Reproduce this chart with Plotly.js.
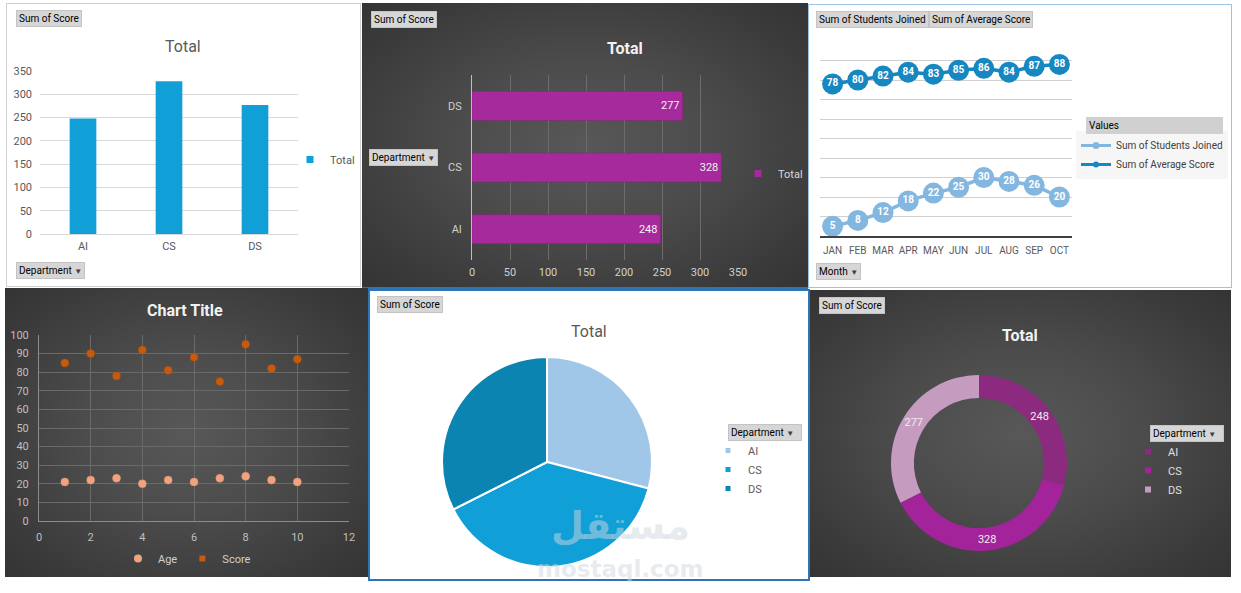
<!DOCTYPE html>
<html><head><meta charset="utf-8">
<script src="https://cdn.plot.ly/plotly-3.0.1.min.js"></script>
<style>
html,body{margin:0;padding:0;background:#fff;overflow:hidden}
#wrap{position:relative;width:1241px;height:593px}
.panel{position:absolute;box-sizing:border-box}
.dark{background:radial-gradient(ellipse at center,#585858 0%,#4c4c4c 40%,#3b3b3b 80%,#343434 100%)}
#chart{position:absolute;left:0;top:0;width:1241px;height:593px}
</style></head><body>
<div id="wrap">
<div class="panel" style="left:6px;top:3px;width:355px;height:284px;border:1px solid #d0d0d0;background:#fff"></div>
<div class="panel dark" style="left:362px;top:3px;width:446px;height:286px;border-bottom:2px solid #2e75b6"></div>
<div class="panel" style="left:808px;top:4px;width:424px;height:284px;border:1px solid #9dc3e6;background:#fff"></div>
<div class="panel dark" style="left:5px;top:288px;width:363px;height:289px"></div>
<div class="panel dark" style="left:809px;top:290px;width:422px;height:287px"></div>
<div class="panel" style="left:368px;top:289px;width:442px;height:292px;border:2px solid #2e75b6;background:#fff"></div>
<div id="chart"></div>
</div>
<script>
// ---- data ----
const departments = ['AI', 'CS', 'DS'];
const sumOfScore = [248, 328, 277];
const months = ['JAN','FEB','MAR','APR','MAY','JUN','JUL','AUG','SEP','OCT'];
const studentsJoined = [5, 8, 12, 18, 22, 25, 30, 28, 26, 20];
const averageScore = [78, 80, 82, 84, 83, 85, 86, 84, 87, 88];
const studentIndex = [1, 2, 3, 4, 5, 6, 7, 8, 9, 10];
const ages = [21, 22, 23, 20, 22, 21, 23, 24, 22, 21];
const scores = [85, 90, 78, 92, 81, 88, 75, 95, 82, 87];

// ---- helpers ----
const W = 1241, H = 593;
const F = 'Roboto, "Noto Sans", sans-serif';
const DX = (a, b) => [a / W, b / W];
const DY = (top, bottom) => [1 - bottom / H, 1 - top / H];
const px = p => p / W, py = p => 1 - p / H;

const blue = '#109fd6';
const magenta = '#a62a9b';
const lightBlueLine = '#84b7e0';
const darkBlueLine = '#1787c2';
const ageColor = '#f1a27f';
const scoreColor = '#c65a11';
const pieColors = ['#a0c7e7', '#109fd6', '#0c84b1'];
const donutColors = ['#8b2a7f', '#a3239a', '#c69bc0'];

function dummy(name, legend, marker, extra) {
  return Object.assign({type: 'scatter', mode: 'markers', x: [null], y: [null], xaxis: 'x', yaxis: 'y',
    name: name, legend: legend, marker: marker, hoverinfo: 'skip'}, extra || {});
}

const traces = [
  // Panel 1: column chart
  {type: 'bar', x: departments, y: sumOfScore, xaxis: 'x', yaxis: 'y', width: 0.31,
   marker: {color: blue}, showlegend: false, hoverinfo: 'skip'},
  dummy('Total', 'legend', {symbol: 'square', size: 7, color: blue}),

  // Panel 2: horizontal bar
  {type: 'bar', orientation: 'h', y: departments, x: sumOfScore, xaxis: 'x2', yaxis: 'y2', width: 0.47,
   marker: {color: magenta, line: {color: '#8f1d85', width: 0.5}},
   text: sumOfScore.map(String), textposition: 'inside', insidetextanchor: 'end', textangle: 0,
   textfont: {family: F, size: 11, color: '#f2f2f2'}, showlegend: false, hoverinfo: 'skip'},
  dummy('Total', 'legend2', {symbol: 'square', size: 7, color: magenta}),

  // Panel 3: line chart
  {type: 'scatter', mode: 'lines+markers+text', x: months, y: studentsJoined, xaxis: 'x3', yaxis: 'y3',
   line: {color: lightBlueLine, width: 3.5}, marker: {size: 21, color: lightBlueLine},
   text: studentsJoined.map(String), textposition: 'middle center',
   textfont: {family: F, size: 10, color: '#ffffff', weight: 700}, cliponaxis: false, showlegend: false, hoverinfo: 'skip'},
  {type: 'scatter', mode: 'lines+markers+text', x: months, y: averageScore, xaxis: 'x3', yaxis: 'y3',
   line: {color: darkBlueLine, width: 3.5}, marker: {size: 21, color: darkBlueLine},
   text: averageScore.map(String), textposition: 'middle center',
   textfont: {family: F, size: 10, color: '#ffffff', weight: 700}, cliponaxis: false, showlegend: false, hoverinfo: 'skip'},
  dummy('Sum of Students Joined', 'legend3', {size: 7, color: lightBlueLine}, {mode: 'lines+markers', line: {color: lightBlueLine, width: 3}}),
  dummy('Sum of Average Score', 'legend3', {size: 6, color: darkBlueLine}, {mode: 'lines+markers', line: {color: darkBlueLine, width: 3}}),

  // Panel 4: scatter
  {type: 'scatter', mode: 'markers', x: studentIndex, y: ages, xaxis: 'x4', yaxis: 'y4',
   marker: {size: 8, color: ageColor, line: {width: 0.5, color: '#d98f6d'}}, showlegend: false, hoverinfo: 'skip'},
  {type: 'scatter', mode: 'markers', x: studentIndex, y: scores, xaxis: 'x4', yaxis: 'y4',
   marker: {size: 8, color: scoreColor, line: {width: 0.5, color: '#a54a0c'}}, showlegend: false, hoverinfo: 'skip'},
  dummy('Age', 'legend4', {symbol: 'circle', size: 8, color: ageColor}),
  dummy('Score', 'legend4', {symbol: 'square', size: 6, color: scoreColor}),

  // Panel 5: pie
  {type: 'pie', labels: departments, values: sumOfScore, sort: false, direction: 'clockwise', rotation: 0,
   domain: {x: DX(442, 652), y: DY(357, 567)},
   marker: {colors: pieColors, line: {color: '#ffffff', width: 2}}, textinfo: 'none', showlegend: false, hoverinfo: 'skip'},
  dummy('AI', 'legend5', {symbol: 'square', size: 5, color: pieColors[0]}),
  dummy('CS', 'legend5', {symbol: 'square', size: 5, color: pieColors[1]}),
  dummy('DS', 'legend5', {symbol: 'square', size: 5, color: pieColors[2]}),

  // Panel 6: doughnut
  {type: 'pie', hole: 0.74, labels: departments, values: sumOfScore, sort: false, direction: 'clockwise', rotation: 0,
   domain: {x: DX(891, 1067), y: DY(375, 551)},
   marker: {colors: donutColors, line: {width: 0}},
   textinfo: 'value', textposition: 'inside', insidetextorientation: 'horizontal',
   textfont: {family: F, size: 11, color: '#eeeeee'}, showlegend: false, hoverinfo: 'skip'},
  dummy('AI', 'legend6', {symbol: 'square', size: 6, color: donutColors[0]}),
  dummy('CS', 'legend6', {symbol: 'square', size: 6, color: donutColors[1]}),
  dummy('DS', 'legend6', {symbol: 'square', size: 6, color: donutColors[2]})
];

function leg(xp, yp, color, extra) {
  return Object.assign({x: px(xp), y: py(yp), xanchor: 'left', yanchor: 'top', bgcolor: 'rgba(0,0,0,0)',
    borderwidth: 0, font: {family: F, size: 11, color: color}, tracegroupgap: 0, itemclick: false, itemdoubleclick: false}, extra || {});
}

function button(text, xp, yp, extra) {
  return Object.assign({xref: 'paper', yref: 'paper', x: px(xp), y: py(yp), xanchor: 'left', yanchor: 'top',
    text: text, showarrow: false, bgcolor: '#d6d6d6', bordercolor: '#c4c4c4', borderwidth: 1, borderpad: 2,
    font: {family: F, size: 10, color: '#000'}}, extra || {});
}
const arrow = ' <span style="font-size:8px;color:#404040">\u25BC</span>';
function title(text, xp, yp, dark) {
  return {xref: 'paper', yref: 'paper', x: px(xp), y: py(yp), xanchor: 'center', yanchor: 'middle', showarrow: false,
    text: text, font: dark ? {family: F, size: 16, color: '#f2f2f2', weight: 700} : {family: F, size: 16, color: '#595959'}};
}

const lightTick = {family: F, size: 11, color: '#595959'};
const darkTick = {family: F, size: 11, color: '#d0d0d0'};

const layout = {
  width: W, height: H, margin: {l: 0, r: 0, t: 0, b: 0},
  paper_bgcolor: 'rgba(0,0,0,0)', plot_bgcolor: 'rgba(0,0,0,0)',
  font: {family: F}, showlegend: true, hovermode: false,
  xaxis: {domain: DX(40, 298), anchor: 'y', type: 'category', categoryarray: departments, range: [-0.5, 2.5],
    showgrid: false, showline: false, zeroline: false, ticks: '', tickfont: lightTick, ticklabelstandoff: 4, fixedrange: true},
  yaxis: {domain: DY(71, 234), anchor: 'x', range: [0, 350], dtick: 50, gridcolor: '#d9d9d9', zeroline: true,
    zerolinecolor: '#d9d9d9', showline: false, ticks: '', tickfont: lightTick, ticklabelstandoff: 7, fixedrange: true},

  xaxis2: {domain: DX(472, 738), anchor: 'y2', range: [0, 350], dtick: 50, gridcolor: '#6c6c6c', zeroline: false,
    showline: false, ticks: '', tickfont: darkTick, ticklabelstandoff: 4, fixedrange: true},
  yaxis2: {domain: DY(75, 260), anchor: 'x2', type: 'category', categoryarray: departments, range: [-0.5, 2.5],
    showgrid: false, showline: true, linecolor: '#bfbfbf', linewidth: 1, zeroline: false, ticks: '',
    tickfont: darkTick, ticklabelstandoff: 7, fixedrange: true},

  xaxis3: {domain: DX(820, 1072), anchor: 'y3', type: 'category', categoryarray: months, range: [-0.5, 9.5],
    showgrid: false, showline: true, linecolor: '#404040', linewidth: 2, zeroline: false, ticks: '',
    tickfont: {family: F, size: 10, color: '#595959'}, ticklabelstandoff: 4, fixedrange: true},
  yaxis3: {domain: DY(41, 236), anchor: 'x3', range: [0, 100], dtick: 10, gridcolor: '#d0d0d0', zeroline: false,
    showticklabels: false, ticks: '', fixedrange: true},

  xaxis4: {domain: DX(39, 349), anchor: 'y4', range: [0, 12], dtick: 2, gridcolor: '#6a6a6a', zeroline: false,
    showline: true, linecolor: '#8c8c8c', ticks: '', tickfont: {family: F, size: 11, color: '#bfbfbf'}, ticklabelstandoff: 6, fixedrange: true},
  yaxis4: {domain: DY(335, 521), anchor: 'x4', range: [0, 100], dtick: 10, gridcolor: '#6a6a6a', zeroline: false,
    showline: true, linecolor: '#8c8c8c', ticks: '', tickfont: {family: F, size: 11, color: '#bfbfbf'}, ticklabelstandoff: 7, fixedrange: true},

  legend: leg(290, 145, '#595959'),
  legend2: leg(738, 159, '#d9d9d9'),
  legend3: leg(1076, 131, '#404040', {bgcolor: 'rgba(242,242,242,0.7)', font: {family: F, size: 10, color: '#404040'}}),
  legend4: leg(187, 544, '#d0d0d0', {orientation: 'h', xanchor: 'center'}),
  legend5: leg(708, 436, '#595959'),
  legend6: leg(1128, 437, '#e0e0e0'),

  annotations: [
    button('Sum of Score', 16, 10),
    button('Department' + arrow, 16, 262),
    title('Total', 183, 47, false),

    button('Sum of Score', 371, 11),
    button('Department' + arrow, 369, 149),
    title('Total', 625, 48, true),

    button('Sum of Students Joined', 816, 11),
    button('Sum of Average Score', 929, 11),
    button('Month' + arrow, 816, 263),
    button('Values', 1086, 117, {width: 131, align: 'left', bgcolor: '#d0d0d0', bordercolor: '#d0d0d0', font: {family: F, size: 10, color: '#000'}}),

    title('Chart Title', 185, 310, true),

    button('Sum of Score', 377, 296),
    title('Total', 589, 332, false),
    button('Department' + arrow, 728, 424, {width: 68, align: 'left'}),
    {xref: 'paper', yref: 'paper', x: px(620), y: py(526), xanchor: 'center', yanchor: 'middle', showarrow: false,
     text: '<b>مستقل</b>', font: {family: '"DejaVu Sans", sans-serif', size: 38, color: 'rgba(205,215,224,0.5)'}},
    {xref: 'paper', yref: 'paper', x: px(620), y: py(569), xanchor: 'center', yanchor: 'middle', showarrow: false,
     text: '<b>mostaql.com</b>', font: {family: '"DejaVu Sans", sans-serif', size: 23, color: 'rgba(205,215,224,0.5)'}},

    button('Sum of Score', 819, 297),
    title('Total', 1020, 335, true),
    button('Department' + arrow, 1150, 425, {width: 68, align: 'left'})
  ]
};

Plotly.newPlot('chart', traces, layout, {displayModeBar: false, staticPlot: true});
</script>
</body></html>
